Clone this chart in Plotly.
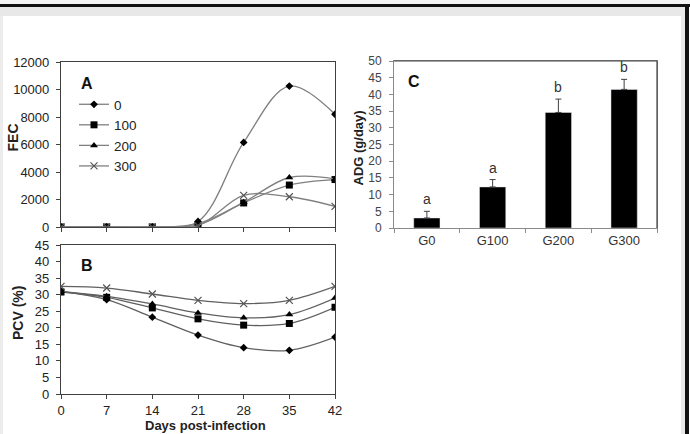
import plotly.graph_objects as go

days = [0, 7, 14, 21, 28, 35, 42]
groups = ["0", "100", "200", "300"]
fec_0 = [0, 0, 0, 400, 6150, 10250, 8200]
fec_100 = [0, 0, 0, 150, 1750, 3050, 3450]
fec_200 = [0, 0, 0, 250, 1800, 3600, 3500]
fec_300 = [0, 0, 0, 100, 2300, 2200, 1500]
pcv_0 = [31.0, 28.5, 23.2, 17.8, 14.0, 13.2, 17.2]
pcv_100 = [30.8, 29.2, 26.0, 22.7, 20.8, 21.3, 26.2]
pcv_200 = [31.0, 29.5, 27.2, 24.5, 23.0, 24.0, 29.0]
pcv_300 = [32.5, 32.0, 30.2, 28.3, 27.3, 28.3, 32.5]
adg_cats = ["G0", "G100", "G200", "G300"]
adg_vals = [3.0, 12.3, 34.6, 41.5]
adg_err = [2.0, 2.2, 4.0, 3.0]
adg_letters = ["a", "a", "b", "b"]

FONT = "Liberation Sans, Arial, sans-serif"
symbols = ["diamond", "square", "triangle-up", "x-thin"]
msizes = [6, 7, 7, 7]

fig = go.Figure()


def marker(i):
    if symbols[i] == "x-thin":
        return dict(symbol="x-thin", size=7, color="#555555", line=dict(color="#555555", width=1.2))
    return dict(symbol=symbols[i], size=msizes[i], color="black")


fec_all = [fec_0, fec_100, fec_200, fec_300]
pcv_all = [pcv_0, pcv_100, pcv_200, pcv_300]
for i, g in enumerate(groups):
    fig.add_trace(go.Scatter(x=days, y=fec_all[i], mode="lines+markers", name=g,
                             line=dict(color="#808080", width=1.3, shape="spline", smoothing=1),
                             marker=marker(i), xaxis="x", yaxis="y", showlegend=True))
for i, g in enumerate(groups):
    fig.add_trace(go.Scatter(x=days, y=pcv_all[i], mode="lines+markers", name=g,
                             line=dict(color="#606060", width=1.3, shape="spline", smoothing=1),
                             marker=marker(i), xaxis="x2", yaxis="y2", showlegend=False))

fig.add_trace(go.Bar(x=adg_cats, y=adg_vals, width=0.4, marker=dict(color="black"),
                     error_y=dict(type="data", array=adg_err, arrayminus=[0] * 4, symmetric=False,
                                  color="#404040", thickness=1, width=3),
                     xaxis="x3", yaxis="y3", showlegend=False))

for c, v, e, t in zip(adg_cats, adg_vals, adg_err, adg_letters):
    fig.add_annotation(x=c, y=v + e, text=t, showarrow=False, xref="x3", yref="y3",
                       xanchor="center", yanchor="bottom", yshift=2,
                       font=dict(size=14, color="#333333", family=FONT))

axis_common = dict(showline=True, linecolor="#404040", linewidth=1.2, mirror=True,
                   showgrid=False, zeroline=False, ticks="outside", ticklen=4,
                   tickcolor="#404040")

fig.update_layout(
    width=690, height=434, margin=dict(l=0, r=0, t=0, b=0, autoexpand=False),
    paper_bgcolor="white", plot_bgcolor="white",
    font=dict(family=FONT, color="#222222"),
    xaxis=dict(domain=[61 / 690, 335 / 690], range=[0, 42], tickvals=days, showticklabels=False,
               anchor="y", **axis_common),
    yaxis=dict(domain=[1 - 227 / 434, 1 - 62 / 434], range=[0, 12000], dtick=2000, anchor="x",
               tickformat="d", ticklabelstandoff=4,
               tickfont=dict(size=13, color="#222222", family=FONT), **axis_common),
    xaxis2=dict(domain=[61 / 690, 335 / 690], range=[0, 42], tickvals=days, anchor="y2",
                tickfont=dict(size=13, color="#222222", family=FONT), **axis_common),
    yaxis2=dict(domain=[1 - 394 / 434, 1 - 245 / 434], range=[0, 45], dtick=5, anchor="x2",
                ticklabelstandoff=4,
                tickfont=dict(size=13, color="#222222", family=FONT), **axis_common),
    xaxis3=dict(domain=[394 / 690, 657 / 690], anchor="y3", showline=True, linecolor="#8a8a8a",
                linewidth=1, mirror=True, showgrid=False, zeroline=False, ticks="outside",
                tickson="boundaries", ticklen=4, tickcolor="#8a8a8a",
                tickfont=dict(size=13, color="#333333", family=FONT)),
    yaxis3=dict(domain=[1 - 228 / 434, 1 - 61 / 434], range=[0, 50], dtick=5, anchor="x3",
                showline=True, linecolor="#8a8a8a", linewidth=1, mirror=True, showgrid=False,
                zeroline=False, ticks="outside", ticklen=4, tickcolor="#8a8a8a",
                ticklabelstandoff=5,
                tickfont=dict(size=12, color="#444444", family=FONT)),
    legend=dict(x=74 / 690, y=1 - 89 / 434, xanchor="left", yanchor="top",
                bgcolor="rgba(0,0,0,0)", font=dict(size=13.5, family=FONT, color="#222222"),
                itemwidth=30, tracegroupgap=0),
    bargap=0.6,
)

# darker top/right edges of panel C
fig.add_shape(type="line", xref="paper", yref="paper", x0=394 / 690, x1=657 / 690,
              y0=1 - 61 / 434, y1=1 - 61 / 434, line=dict(color="#444444", width=1.2))
fig.add_shape(type="line", xref="paper", yref="paper", x0=657 / 690, x1=657 / 690,
              y0=1 - 61 / 434, y1=1 - 228 / 434, line=dict(color="#444444", width=1.2))

# panel letters
for txt, x, y in [("A", 87, 83), ("B", 87, 265), ("C", 414, 82)]:
    fig.add_annotation(x=x / 690, y=1 - y / 434, xref="paper", yref="paper", text="<b>%s</b>" % txt,
                       showarrow=False, xanchor="center", yanchor="middle",
                       font=dict(size=16, family=FONT, color="#111111"))

# axis titles
titles = [("<b>FEC</b>", 12.5, 138, -90, 14), ("<b>PCV (%)</b>", 18, 313, -90, 14),
          ("<b>ADG (g/day)</b>", 357.5, 148, -90, 13), ("<b>Days post-infection</b>", 205, 425, 0, 13)]
for txt, x, y, ang, sz in titles:
    fig.add_annotation(x=x / 690, y=1 - y / 434, xref="paper", yref="paper", text=txt,
                       textangle=ang, showarrow=False, xanchor="center", yanchor="middle",
                       font=dict(size=sz, family=FONT, color="#222222"))


# frame
def rect(x0, y0, x1, y1, color):
    fig.add_shape(type="rect", xref="paper", yref="paper", x0=x0 / 690, x1=x1 / 690,
                  y0=1 - y1 / 434, y1=1 - y0 / 434, fillcolor=color, line=dict(width=0), layer="below")


rect(0, 0, 690, 4, "#f4f4f4")
rect(0, 4, 690, 7, "#111111")
rect(0, 7, 684, 16, "#e8e8e8")
rect(0, 16, 3, 434, "#ececec")
rect(681, 7, 685, 434, "#e8e8e8")
rect(685, 4, 689, 434, "#111111")

fig.write_html("out.html")
